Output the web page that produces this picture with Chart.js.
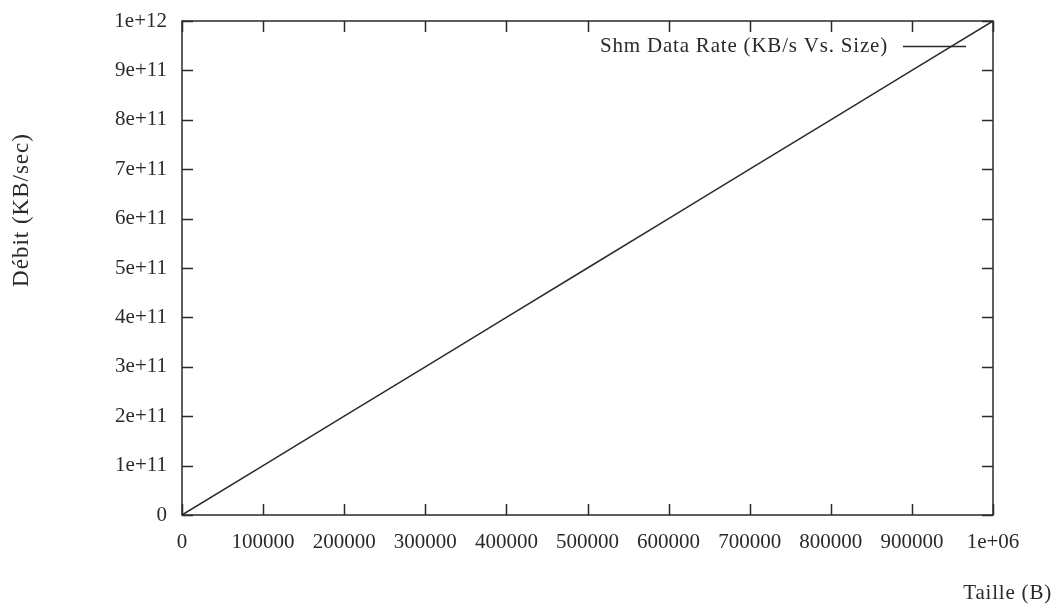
<!DOCTYPE html>
<html>
<head>
<meta charset="utf-8">
<script src="https://cdn.jsdelivr.net/npm/chart.js@4.4.0/dist/chart.umd.min.js"></script>
<style>
  html, body { margin: 0; padding: 0; background: #fff; }
  #wrap { width: 1059px; height: 608px; }
</style>
</head>
<body>
<div id="wrap"><canvas id="graph" width="1059" height="608"></canvas></div>
<script>
// data (straight line from origin to top-right corner)
const tailles = [0, 100000, 200000, 300000, 400000, 500000, 600000, 700000, 800000, 900000, 1000000];
const debits = [0, 1e11, 2e11, 3e11, 4e11, 5e11, 6e11, 7e11, 8e11, 9e11, 1e12];
const serieLabel = "Shm Data Rate (KB/s Vs. Size)";
const titreX = "Taille (B)";
const titreY = "Débit (KB/sec)";

const FONT = "'Liberation Serif', 'Times New Roman', serif";
const INK = "#2a2a2a";

// format style gnuplot (%g)
function fmtG(v) {
    if (v === 0) return "0";
    if (Math.abs(v) < 1e6) return String(v);
    const e = Math.floor(Math.log10(Math.abs(v)) + 1e-9);
    const m = Math.round(v / Math.pow(10, e) * 1000) / 1000;
    return m + "e+" + (e < 10 ? "0" + e : e);
}

// cadre + ticks vers l'intérieur, titres et légende
const gnuplotLook = {
    id: 'gnuplotLook',
    afterDraw(chart) {
        const ctx = chart.ctx;
        const a = chart.chartArea;
        const sx = chart.scales.x, sy = chart.scales.y;
        const tl = 11;
        ctx.save();
        ctx.strokeStyle = INK;
        ctx.lineWidth = 1.5;
        ctx.strokeRect(a.left, a.top, a.right - a.left, a.bottom - a.top);
        ctx.beginPath();
        sx.ticks.forEach(t => {
            const px = Math.round(sx.getPixelForValue(t.value)) + 0.5;
            ctx.moveTo(px, a.bottom); ctx.lineTo(px, a.bottom - tl);
            ctx.moveTo(px, a.top); ctx.lineTo(px, a.top + tl);
        });
        sy.ticks.forEach(t => {
            const py = Math.round(sy.getPixelForValue(t.value)) + 0.5;
            ctx.moveTo(a.left, py); ctx.lineTo(a.left + tl, py);
            ctx.moveTo(a.right, py); ctx.lineTo(a.right - tl, py);
        });
        ctx.stroke();

        ctx.fillStyle = INK;
        ctx.font = "21px " + FONT;
        ctx.letterSpacing = "0.8px";
        // legende
        ctx.textAlign = "right";
        ctx.textBaseline = "middle";
        ctx.fillText(chart.data.datasets[0].label, 888, 46);
        ctx.beginPath();
        ctx.moveTo(903, 46.5); ctx.lineTo(966, 46.5);
        ctx.stroke();
        // titre axe x
        ctx.fillText(titreX, 1052, 593);
        // titre axe y
        ctx.font = "23px " + FONT;
        ctx.letterSpacing = "1px";
        ctx.translate(22, 210);
        ctx.rotate(-Math.PI / 2);
        ctx.textAlign = "center";
        ctx.fillText(titreY, 0, 0);
        ctx.restore();
    }
};

new Chart(document.getElementById('graph'), {
    type: 'line',
    data: {
        datasets: [{
            label: serieLabel,
            data: tailles.map((t, i) => ({ x: t, y: debits[i] })),
            borderColor: INK,
            borderWidth: 1.5,
            pointRadius: 0,
            fill: false,
            tension: 0
        }]
    },
    options: {
        responsive: false,
        animation: false,
        layout: { padding: { top: 21, right: 66, left: 0, bottom: 0 } },
        plugins: { legend: { display: false }, tooltip: { enabled: false } },
        scales: {
            x: {
                type: 'linear',
                min: 0, max: 1000000,
                afterFit: s => { s.height = 93; s.paddingLeft = 0; s.paddingRight = 0; },
                grid: { display: false, drawTicks: false },
                border: { display: false },
                ticks: {
                    stepSize: 100000,
                    autoSkip: false,
                    maxRotation: 0,
                    padding: 15,
                    color: INK,
                    font: { family: FONT, size: 21 },
                    callback: v => fmtG(v)
                }
            },
            y: {
                type: 'linear',
                min: 0, max: 1e12,
                afterFit: s => { s.width = 182; s.paddingTop = 0; s.paddingBottom = 0; },
                grid: { display: false, drawTicks: false },
                border: { display: false },
                ticks: {
                    stepSize: 1e11,
                    autoSkip: false,
                    padding: 15,
                    color: INK,
                    font: { family: FONT, size: 21 },
                    callback: v => fmtG(v)
                }
            }
        }
    },
    plugins: [gnuplotLook]
});
</script>
</body>
</html>
